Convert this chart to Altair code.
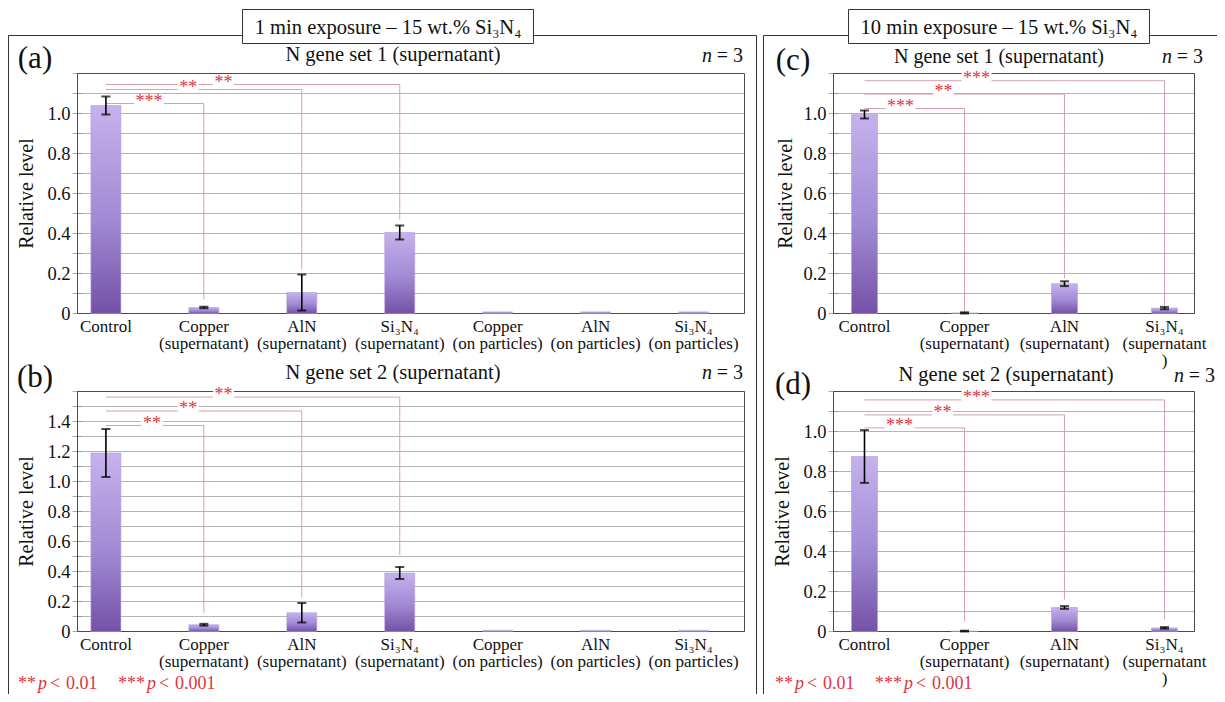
import pandas as pd
import altair as alt

FONT = "Liberation Serif"
RED = "#e2343c"
BRACKET = "#d3a2aa"
GRID = "#b5b5b5"
FRAME = "#4a4a4a"
INK = "#111111"

# ---------------- data ----------------
left_labels = [["Control"], ["Copper", "(supernatant)"], ["AlN", "(supernatant)"],
               ["Si₃N₄", "(supernatant)"], ["Copper", "(on particles)"],
               ["AlN", "(on particles)"], ["Si₃N₄", "(on particles)"]]
right_labels = [["Control"], ["Copper", "(supernatant)"], ["AlN", "(supernatant)"],
                ["Si₃N₄", "(supernatant", ")"]]

# (a) 1 min, N gene set 1
a_values = [1.04, 0.03, 0.105, 0.405, 0.008, 0.008, 0.008]
a_errors = [0.045, 0.004, 0.09, 0.035, 0.0, 0.0, 0.0]
a_sig_target = [1, 2, 3]
a_sig_level = [1.05, 1.12, 1.145]
a_sig_end = [0.07, 0.22, 0.47]
a_sig_stars = ["***", "**", "**"]
a_sig_star_x = [0.44, 0.84, 1.2]

# (b) 1 min, N gene set 2
b_values = [1.19, 0.045, 0.125, 0.39, 0.008, 0.008, 0.008]
b_errors = [0.16, 0.006, 0.065, 0.04, 0.0, 0.0, 0.0]
b_sig_target = [1, 2, 3]
b_sig_level = [1.373, 1.47, 1.563]
b_sig_end = [0.125, 0.226, 0.51]
b_sig_stars = ["**", "**", "**"]
b_sig_star_x = [0.47, 0.84, 1.2]

# (c) 10 min, N gene set 1
c_values = [0.995, 0.003, 0.149, 0.027]
c_errors = [0.02, 0.003, 0.012, 0.006]
c_sig_target = [1, 2, 3]
c_sig_level = [1.025, 1.097, 1.164]
c_sig_end = [0.012, 0.176, 0.04]
c_sig_stars = ["***", "**", "***"]
c_sig_star_x = [0.36, 0.79, 1.12]

# (d) 10 min, N gene set 2
d_values = [0.875, 0.002, 0.12, 0.018]
d_errors = [0.132, 0.002, 0.007, 0.004]
d_sig_target = [1, 2, 3]
d_sig_level = [1.018, 1.083, 1.158]
d_sig_end = [0.05, 0.16, 0.06]
d_sig_stars = ["***", "**", "***"]
d_sig_star_x = [0.35, 0.78, 1.12]

y12_ticks = [0, 0.1, 0.2, 0.3, 0.4, 0.5, 0.6, 0.7, 0.8, 0.9, 1.0, 1.1, 1.2]
y12_labels = ["0", "", "0.2", "", "0.4", "", "0.6", "", "0.8", "", "1.0", "", ""]
y16_ticks = [0, 0.1, 0.2, 0.3, 0.4, 0.5, 0.6, 0.7, 0.8, 0.9, 1.0, 1.1, 1.2, 1.3, 1.4, 1.5, 1.6]
y16_labels = ["0", "", "0.2", "", "0.4", "", "0.6", "", "0.8", "", "1.0", "", "1.2", "", "1.4", "", ""]

GRAD = alt.Gradient(
    gradient="linear",
    stops=[alt.GradientStop(color="#c5b2ec", offset=0),
           alt.GradientStop(color="#a08ad4", offset=0.55),
           alt.GradientStop(color="#7451a7", offset=1)],
    x1=0, x2=0, y1=0, y2=1)

BOX3 = "M-1,-0.6 L1,-0.6 L1,0.2 L-1,0.2 Z"
BOX2 = "M-1,-0.86 L1,-0.86 L1,0.29 L-1,0.29 Z"


def panel(values, errors, labels, sig_target, sig_level, sig_end, sig_stars, sig_star_x,
          yticks, ylabels, xdom, xrange, yrange, title_x, bar_w):
    n = len(values)
    df = pd.DataFrame({"pos": list(range(n)), "value": values, "err": errors})
    df["lo"] = df["value"] - df["err"]
    df["hi"] = df["value"] + df["err"]
    ydom = [yticks[0], yticks[-1]]
    xs = alt.Scale(domain=xdom, range=xrange, nice=False, zero=False)
    ys = alt.Scale(domain=ydom, range=yrange, nice=False, zero=False)

    def X(f):
        return alt.X(f, type="quantitative", scale=xs, axis=None)

    def Y(f):
        return alt.Y(f, type="quantitative", scale=ys, axis=None)

    tick_df = pd.DataFrame({"t": yticks, "lab": ylabels, "x0": xdom[0], "x1": xdom[1]})
    grid = alt.Chart(tick_df).mark_rule(color=GRID, strokeWidth=1).encode(
        x=X("x0"), x2="x1:Q", y=Y("t"))
    tickm = alt.Chart(tick_df).mark_tick(orient="horizontal", size=10, thickness=1,
                                         color="#8a8a8a").encode(x=X("x0"), y=Y("t"))
    ytext = alt.Chart(tick_df).transform_filter("datum.lab != ''").mark_text(
        font=FONT, fontSize=18.5, color=INK, align="right", baseline="middle", dx=-7).encode(
        x=X("x0"), y=Y("t"), text="lab:N")

    title_df = pd.DataFrame({"ym": [ydom[1] / 2]})
    ytitle = alt.Chart(title_df).mark_text(
        text="Relative level", font=FONT, fontSize=20, color=INK, angle=270,
        align="center", baseline="middle").encode(x=alt.value(title_x), y=Y("ym"))

    lab_df = pd.DataFrame({"pos": list(range(n)), "lab": ["\n".join(l) for l in labels], "y0": 0.0})
    xtext = alt.Chart(lab_df).mark_text(
        font=FONT, fontSize=17, color=INK, align="center", baseline="top",
        lineBreak="\n", lineHeight=17, dy=5).encode(x=X("pos"), y=Y("y0"), text="lab:N")

    frame_df = pd.DataFrame({"x0": [xdom[0]], "x1": [xdom[1]], "y0": [ydom[0]], "y1": [ydom[1]]})
    frame = alt.Chart(frame_df).mark_rect(fillOpacity=0, stroke=FRAME, strokeWidth=1).encode(
        x=X("x0"), x2="x1:Q", y=Y("y0"), y2="y1:Q")

    bars = alt.Chart(df).mark_bar(size=bar_w, orient="vertical", color=GRAD,
                                  stroke="#b09ddd", strokeWidth=0.6).encode(
        x=X("pos"), y=Y("value"))

    edf = alt.Chart(df).transform_filter("datum.err > 0")
    err = edf.mark_rule(color="black", strokeWidth=1.6).encode(x=X("pos"), y=Y("lo"), y2="hi:Q")
    cap_hi = edf.mark_tick(orient="horizontal", size=9, thickness=2, color="black").encode(
        x=X("pos"), y=Y("hi"))
    cap_lo = edf.mark_tick(orient="horizontal", size=9, thickness=2, color="black").encode(
        x=X("pos"), y=Y("lo"))

    sig = pd.DataFrame({"x0": 0, "target": sig_target, "level": sig_level, "end": sig_end,
                        "stars": sig_stars, "sx": sig_star_x})
    sc = alt.Chart(sig)
    hline = sc.mark_rule(color=BRACKET, strokeWidth=1).encode(x=X("x0"), x2="target:Q", y=Y("level"))
    vline = sc.mark_rule(color=BRACKET, strokeWidth=1).encode(x=X("target"), y=Y("level"), y2="end:Q")
    box3 = sc.transform_filter("length(datum.stars) == 3").mark_point(
        shape=BOX3, size=900, filled=True, color="white", opacity=1, strokeWidth=0).encode(
        x=X("sx"), y=Y("level"))
    box2 = sc.transform_filter("length(datum.stars) == 2").mark_point(
        shape=BOX2, size=441, filled=True, color="white", opacity=1, strokeWidth=0).encode(
        x=X("sx"), y=Y("level"))
    stars = sc.mark_text(font=FONT, fontSize=18, color=RED, baseline="alphabetic",
                         align="center", dy=3).encode(x=X("sx"), y=Y("level"), text="stars:N")

    return alt.layer(grid, tickm, frame, hline, vline, bars, err, cap_hi, cap_lo,
                     box3, box2, stars, ytext, ytitle, xtext)


LX = [-0.29, 6.52]
LXR = [64.5, 741.5]
RX = [-0.31, 3.3]
RXR = [820.5, 1191.5]
TOPR = [305.5, 65.5]
BOTR = [623.5, 383.5]

pa = panel(a_values, a_errors, left_labels, a_sig_target, a_sig_level, a_sig_end, a_sig_stars,
           a_sig_star_x, y12_ticks, y12_labels, LX, LXR, TOPR, 19, 30)
pb = panel(b_values, b_errors, left_labels, b_sig_target, b_sig_level, b_sig_end, b_sig_stars,
           b_sig_star_x, y16_ticks, y16_labels, LX, LXR, BOTR, 19, 30)
pc = panel(c_values, c_errors, right_labels, c_sig_target, c_sig_level, c_sig_end, c_sig_stars,
           c_sig_star_x, y12_ticks, y12_labels, RX, RXR, TOPR, 778, 26)
pd_ = panel(d_values, d_errors, right_labels, d_sig_target, d_sig_level, d_sig_end, d_sig_stars,
            d_sig_star_x, y12_ticks, y12_labels, RX, RXR, BOTR, 775, 26)

one = pd.DataFrame({"k": [0]})


def rect(x0, x1, y0, y1, white):
    m = alt.Chart(one).mark_rect(fill="white", fillOpacity=1 if white else 0,
                                 stroke="#333", strokeWidth=1)
    return m.encode(x=alt.value(x0), x2=alt.value(x1), y=alt.value(y0), y2=alt.value(y1))


def txt(s, x, y, size, align="center", color=INK, style="normal"):
    return alt.Chart(one).mark_text(text=s, font=FONT, fontSize=size, align=align,
                                    baseline="alphabetic", color=color, fontStyle=style).encode(
        x=alt.value(x), y=alt.value(y))


deco_back = [rect(0.5, 748.5, 27.5, 720, False), rect(755.5, 1240, 27.5, 720, False)]
deco_front = [
    rect(234.5, 525.5, 1.5, 35.5, True), rect(840.5, 1141.5, 1.5, 35.5, True),
    txt("1 min exposure – 15 wt.% Si₃N₄", 380, 26, 20.5),
    txt("10 min exposure – 15 wt.% Si₃N₄", 991, 26, 20.5),
    txt("(a)", 27, 60, 31), txt("(b)", 27, 379, 31),
    txt("(c)", 785, 62, 31), txt("(d)", 785, 386, 31),
    txt("N gene set 1 (supernatant)", 385, 53, 20.5),
    txt("N gene set 2 (supernatant)", 385, 371, 20.5),
    txt("N gene set 1 (supernatant)", 991, 55, 20),
    txt("N gene set 2 (supernatant)", 998, 373, 20.5),
]
for rx, by in [(735, 54), (735, 371), (1195, 55), (1207, 374)]:
    deco_front.append(txt("= 3", rx, by, 20, align="right"))
    deco_front.append(txt("n", rx - 31, by, 20, align="right", style="italic"))

for x0, by in [(10, 681), (767, 681)]:
    deco_front += [
        txt("**", x0, by, 18, align="left", color=RED),
        txt("p", x0 + 20, by, 18, align="left", color=RED, style="italic"),
        txt("<", x0 + 32, by, 18, align="left", color=RED),
        txt("0.01", x0 + 48, by, 18, align="left", color=RED),
        txt("***", x0 + 100, by, 18, align="left", color=RED),
        txt("p", x0 + 129, by, 18, align="left", color=RED, style="italic"),
        txt("<", x0 + 141, by, 18, align="left", color=RED),
        txt("0.001", x0 + 157, by, 18, align="left", color=RED),
    ]

chart = alt.layer(*deco_back, pa, pb, pc, pd_, *deco_front).resolve_scale(
    x="independent", y="independent").properties(
    width=1209, height=686, padding=0,
    autosize=alt.AutoSizeParams(type="none")).configure_view(stroke=None)

chart.save("out.html", embed_options={"renderer": "svg", "actions": False})
